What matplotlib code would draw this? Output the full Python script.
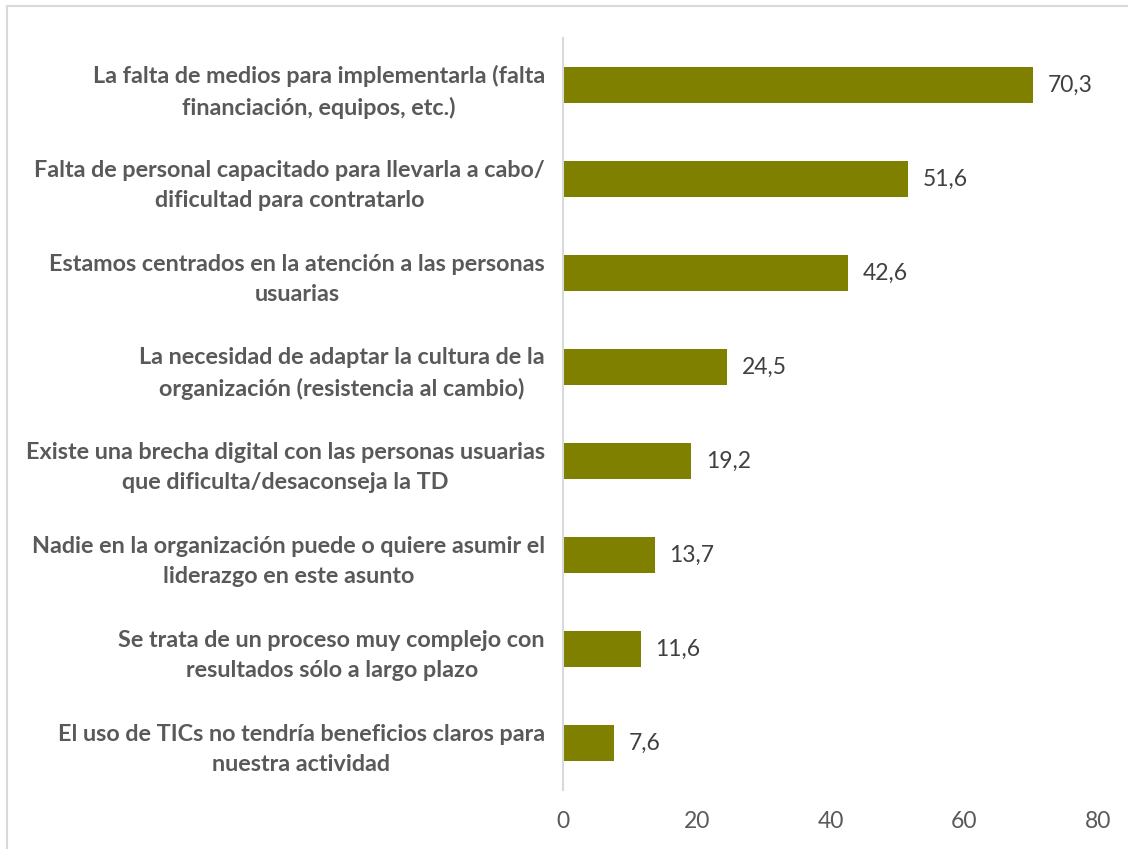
import matplotlib.pyplot as plt
from matplotlib.patches import Rectangle

# category labels, top to bottom
labels = [
    "La falta de medios para implementarla (falta\nfinanciación, equipos, etc.)",
    "Falta de personal capacitado para llevarla a cabo/\ndificultad para contratarlo",
    "Estamos centrados en la atención a las personas\nusuarias",
    "La necesidad de adaptar la cultura de la\norganización (resistencia al cambio)",
    "Existe una brecha digital con las personas usuarias\nque dificulta/desaconseja la TD",
    "Nadie en la organización puede o quiere asumir el\nliderazgo en este asunto",
    "Se trata de un proceso muy complejo con\nresultados sólo a largo plazo",
    "El uso de TICs no tendría beneficios claros para\nnuestra actividad",
]
values = [70.3, 51.6, 42.6, 24.5, 19.2, 13.7, 11.6, 7.6]
xticks = [0, 20, 40, 60, 80]

plt.rcParams['font.family'] = ['Lato', 'DejaVu Sans']

fig = plt.figure(figsize=(11.28, 8.49), dpi=100)
ax = fig.add_axes([0.4991, 0.0695, 0.4743, 0.8857])

# light grey frame around the chart area
fig.patches.append(Rectangle((7 / 1128, -0.05), 1.1, 1.05 - 6 / 849,
                             transform=fig.transFigure, fill=False,
                             edgecolor='#d9d9d9', linewidth=1.5))

pos = list(range(len(values)))
ax.barh(pos, values, height=0.39, color='#808000')

for p, v in zip(pos, values):
    ax.text(v + 2.2, p, f"{v:.1f}".replace('.', ','), va='center', ha='left',
            fontsize=16.5, color='#404040')

ax.set_xlim(0, 80)
ax.set_ylim(len(values) - 0.5, -0.5)
ax.set_xticks(xticks)
ax.set_xticklabels([str(t) for t in xticks], fontsize=16.5, color='#595959')
ax.set_yticks(pos)
ax.set_yticklabels(labels, fontsize=16.8, fontweight='bold', color='#595959',
                   multialignment='center', linespacing=1.55)
ax.tick_params(axis='y', length=0, pad=13)
ax.tick_params(axis='x', length=0, pad=15)

for s in ['top', 'right', 'bottom']:
    ax.spines[s].set_visible(False)
ax.spines['left'].set_color('#d9d9d9')
ax.spines['left'].set_linewidth(1.5)

fig.savefig('out.png', dpi=100)
